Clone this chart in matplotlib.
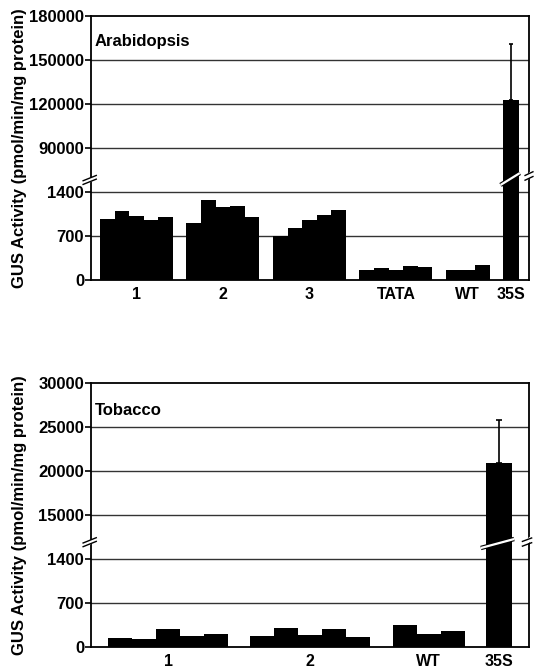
import numpy as np
import matplotlib
matplotlib.use("Agg")
import matplotlib.pyplot as plt
from matplotlib.ticker import FixedLocator, NullLocator

plt.rcParams['font.family'] = ['Liberation Sans', 'DejaVu Sans']
plt.rcParams['font.weight'] = 'bold'

# ---------------- data ----------------
arab_groups = ['1', '2', '3', 'TATA', 'WT', '35S']
arab_line1 = [977, 1105, 1025, 961, 998]
arab_line2 = [912, 1266, 1159, 1175, 1009]
arab_line3 = [697, 821, 949, 1030, 1110]
arab_tata = [166, 198, 156, 220, 204]
arab_wt = [156, 166, 246]
arab_35s = [122700]
arab_35s_err = [38000]
arab_ticks = [0, 700, 1400, 90000, 120000, 150000, 180000]

tob_groups = ['1', '2', 'WT', '35S']
tob_line1 = [136, 130, 281, 173, 200]
tob_line2 = [168, 307, 184, 291, 162]
tob_wt = [351, 210, 259]
tob_35s = [20920]
tob_35s_err = [4900]
tob_ticks = [0, 700, 1400, 15000, 20000, 25000, 30000]

ylabel = 'GUS Activity (pmol/min/mg protein)'


def make_scale(lo_max, lo_unit, hi_min, hi_unit):
    def fwd(v):
        v = np.asarray(v, dtype=float)
        lo = v / lo_unit
        mid = lo_max / lo_unit + (v - lo_max) / (hi_min - lo_max)
        hi = lo_max / lo_unit + 1 + (v - hi_min) / hi_unit
        return np.where(v <= lo_max, lo, np.where(v < hi_min, mid, hi))

    def inv(u):
        u = np.asarray(u, dtype=float)
        b1 = lo_max / lo_unit
        lo = u * lo_unit
        mid = lo_max + (u - b1) * (hi_min - lo_max)
        hi = hi_min + (u - b1 - 1) * hi_unit
        return np.where(u <= b1, lo, np.where(u < b1 + 1, mid, hi))
    return fwd, inv


def draw_panel(ax, groups, series, big, big_err, ticks, xmax, starts, big_start,
               title, title_y, br_y, bar_br, right_br, capsize):
    fwd, inv = make_scale(1400, 700, ticks[3], ticks[4] - ticks[3])
    ax.set_yscale('function', functions=(fwd, inv))
    ax.set_ylim(0, ticks[-1])
    ax.set_xlim(0, xmax)
    ax.yaxis.set_major_locator(FixedLocator(ticks))
    ax.yaxis.set_minor_locator(NullLocator())
    ax.set_yticklabels([str(t) for t in ticks])
    for t in ticks[1:-1]:
        ax.axhline(t, color='#333333', lw=1.0, zorder=1)

    centers = []
    for s0, vals in zip(starts, series):
        xs = s0 + 0.5 + np.arange(len(vals))
        ax.bar(xs, vals, width=1.0, color='black', zorder=2, linewidth=0)
        centers.append(s0 + len(vals) / 2)
    xb = big_start + 0.55
    ax.bar([xb], big, width=1.1, color='black', zorder=2, linewidth=0)
    ax.errorbar([xb], big, yerr=[[0], big_err], fmt='none', ecolor='black',
                elinewidth=1.2, capsize=capsize, capthick=1.2, zorder=3)
    centers.append(xb)

    ax.set_xticks(centers)
    ax.set_xticklabels(groups, fontsize=11.5, fontweight='bold')
    ax.tick_params(axis='x', length=0, pad=5)
    ax.tick_params(axis='y', length=4, width=1.2, pad=1, labelsize=12)
    for lab in ax.get_yticklabels():
        lab.set_fontweight('bold')
    for sp in ax.spines.values():
        sp.set_linewidth(1.3)
        sp.set_color('black')
        sp.set_zorder(5)

    ax.text(0.008, title_y, title, transform=ax.transAxes, fontsize=12,
            fontweight='bold', ha='left', va='baseline')
    ax.set_ylabel(ylabel, fontsize=12, fontweight='bold')
    ax.yaxis.set_label_coords(-0.145, 0.5)

    # left axis break marks
    tr = ax.transAxes
    ax.plot([-0.018, 0.012], [br_y - 0.012, br_y + 0.008], color='white', lw=3,
            transform=tr, clip_on=False, zorder=6)
    for dy in (-0.006, 0.008):
        ax.plot([-0.018, 0.012], [br_y - 0.012 + dy, br_y + 0.008 + dy], color='black',
                lw=1.0, transform=tr, clip_on=False, zorder=7)
    # break line across the big bar
    (x0, y0, x1, y1) = bar_br
    ax.plot([x0, x1], [y0, y1], color='black', lw=3.2, transform=tr, zorder=6,
            solid_capstyle='butt')
    ax.plot([x0, x1], [y0, y1], color='white', lw=1.6, transform=tr, zorder=7,
            solid_capstyle='butt')
    # right break marks
    (rx0, ry0, rx1, ry1) = right_br
    ax.plot([rx0, rx1], [ry0 - 0.008, ry1 + 0.008], color='white', lw=3,
            transform=tr, clip_on=False, zorder=6)
    for dy in (-0.01, 0.008):
        ax.plot([rx0, rx1], [ry0 + dy, ry1 + dy], color='black', lw=1.0,
                transform=tr, clip_on=False, zorder=7)


fig = plt.figure(figsize=(5.34, 6.69), dpi=100)
ax1 = fig.add_axes([91 / 534, 1 - 280 / 669, 438 / 534, 264 / 669])
ax2 = fig.add_axes([91 / 534, 1 - 647 / 669, 438 / 534, 264 / 669])

draw_panel(ax1, arab_groups,
           [arab_line1, arab_line2, arab_line3, arab_tata, arab_wt],
           arab_35s, arab_35s_err, arab_ticks, 30.0,
           [0.62, 6.54, 12.46, 18.38, 24.3], 28.2,
           'Arabidopsis', 0.886, 0.38,
           (0.935, 0.36, 0.979, 0.405), (0.991, 0.388, 1.009, 0.402), 1.5)

draw_panel(ax2, tob_groups,
           [tob_line1, tob_line2, tob_wt],
           tob_35s, tob_35s_err, tob_ticks, 18.25,
           [0.72, 6.63, 12.57], 16.45,
           'Tobacco', 0.879, 0.398,
           (0.89, 0.375, 0.966, 0.409), (0.985, 0.392, 1.006, 0.405), 2.0)

fig.savefig('out.png', dpi=100)
